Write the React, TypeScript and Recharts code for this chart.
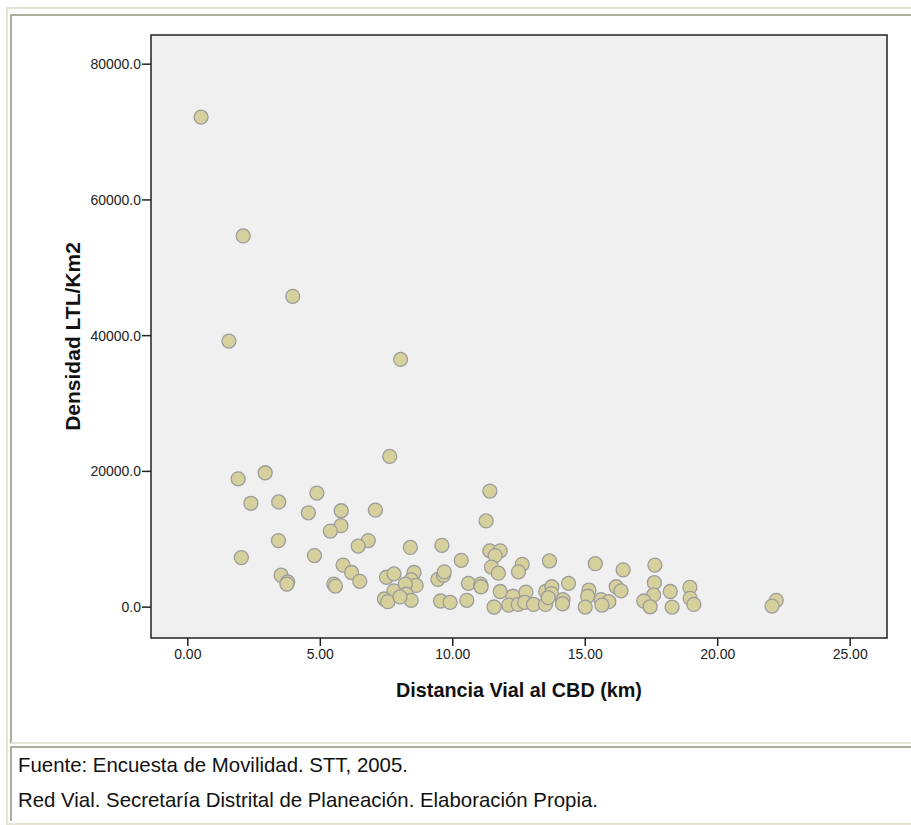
import React from 'react'
import { ScatterChart, Scatter, XAxis, YAxis, ReferenceArea } from 'recharts'

// Distancia vial al CBD (km) y densidad LTL/Km2 por zona
const distancia = [
  0.5, 2.09, 3.96, 1.55, 8.03, 7.62, 1.9, 2.92, 2.38, 3.43, 4.87, 4.55, 5.79, 7.08, 5.78, 5.38, 3.42,
  6.81, 6.43, 2.02, 4.78, 5.86, 6.18, 6.49, 3.52, 3.77, 3.74, 5.51, 5.57, 7.5, 7.78, 7.78, 7.42, 7.55,
  11.4, 11.26, 8.4, 9.59, 10.32, 11.4, 11.79, 11.6, 11.46, 11.72, 13.65, 12.62, 12.48, 15.38, 16.43,
  8.54, 8.43, 8.62, 8.21, 8.24, 8.43, 8.01, 9.44, 9.65, 9.68, 10.59, 11.05, 11.07, 9.54, 9.9, 10.53,
  11.79, 11.56, 12.27, 12.11, 12.47, 12.76, 12.71, 13.05, 13.51, 13.74, 13.72, 13.5, 14.16, 14.14,
  14.37, 15.14, 15.09, 15.0, 15.6, 15.89, 15.63, 16.17, 16.35, 17.63, 17.61, 17.58, 17.21, 17.45,
  18.21, 18.28, 18.95, 18.96, 19.1, 22.21, 22.05, 13.6,
]
const densidad = [
  72200, 54700, 45800, 39200, 36500, 22200, 18900, 19800, 15300, 15500, 16800, 13900, 14200, 14300,
  12000, 11200, 9800, 9800, 9000, 7300, 7600, 6200, 5100, 3800, 4700, 3700, 3400, 3400, 3100, 4400,
  4900, 2400, 1200, 800, 17100, 12700, 8800, 9100, 6900, 8300, 8300, 7600, 5900, 5000, 6800, 6300,
  5200, 6400, 5500, 5100, 4000, 3200, 3400, 1900, 1000, 1500, 4100, 4700, 5200, 3500, 3400, 3000, 900,
  700, 1000, 2300, 20, 1600, 300, 400, 2200, 700, 400, 2300, 3000, 2000, 400, 1100, 500, 3500, 2500,
  1600, 0, 1100, 800, 300, 3000, 2400, 6200, 3600, 1800, 900, 50, 2300, 0, 2900, 1300, 400, 1000,
  150, 1400,
]
const xTicks = [0, 5, 10, 15, 20, 25]
const yTicks = [0, 20000, 40000, 60000, 80000]
const xDomain = [-1.39, 26.39]
const yDomain = [-4550, 84300]

const data = distancia.map((d, i) => ({ distancia: d, densidad: densidad[i] }))

const font = 'Arial, "Liberation Sans", sans-serif'

const Dot = (props: any) => (
  <circle cx={props.cx} cy={props.cy} r={7} fill="#d5d09c" stroke="#9c9c9c" strokeWidth={1.3} />
)

const YTitle = (props: any) => {
  const vb = props.viewBox
  const cy = vb.y + vb.height / 2
  return (
    <text
      x={72}
      y={cy}
      transform={`rotate(-90, 72, ${cy})`}
      textAnchor="middle"
      dominantBaseline="central"
      fontFamily={font}
      fontWeight="bold"
      fontSize={21}
      fill="#111"
    >
      Densidad LTL/Km2
    </text>
  )
}

const XTitle = (props: any) => {
  const vb = props.viewBox
  return (
    <text
      x={vb.x + vb.width / 2}
      y={690}
      textAnchor="middle"
      dominantBaseline="central"
      fontFamily={font}
      fontWeight="bold"
      fontSize={19.8}
      fill="#111"
    >
      Distancia Vial al CBD (km)
    </text>
  )
}

export default function App() {
  return (
    <div style={{ position: 'absolute', left: 0, top: 0, width: 911, height: 825, background: '#fff', overflow: 'hidden' }}>
      {/* marcos */}
      <div style={{ position: 'absolute', left: 6, top: 7, width: 920, height: 814, borderLeft: '2px solid #e6e4d6', borderTop: '2px solid #e6e4d6', borderBottom: '2px solid #e6e4d6' }} />
      <div style={{ position: 'absolute', left: 10, top: 14, width: 920, height: 726, borderLeft: '2px solid #aeac9e', borderTop: '2px solid #aeac9e', borderBottom: '2px solid #e6e4d6' }} />
      <div style={{ position: 'absolute', left: 10, top: 746, width: 920, height: 73, borderLeft: '2px solid #aeac9e', borderTop: '2px solid #aeac9e' }} />

      <div style={{ position: 'absolute', left: 0, top: 0 }}>
        <ScatterChart width={911} height={710} margin={{ top: 35, right: 24, left: 0, bottom: 0 }}>
          <ReferenceArea
            x1={xDomain[0]}
            x2={xDomain[1]}
            y1={yDomain[0]}
            y2={yDomain[1]}
            fill="#f0f0f0"
            fillOpacity={1}
            stroke="#222"
            strokeWidth={1.5}
            ifOverflow="visible"
          />
          <XAxis
            type="number"
            dataKey="distancia"
            domain={xDomain}
            ticks={xTicks}
            allowDataOverflow
            height={72}
            axisLine={false}
            tickSize={8}
            tickMargin={3}
            tickLine={{ stroke: '#222', strokeWidth: 1.5 }}
            tick={{ fill: '#222', fontSize: 14, fontFamily: font }}
            tickFormatter={(v: number) => v.toFixed(2)}
            label={<XTitle />}
          />
          <YAxis
            type="number"
            dataKey="densidad"
            domain={yDomain}
            ticks={yTicks}
            allowDataOverflow
            width={151}
            axisLine={false}
            tickSize={9}
            tickMargin={1}
            tickLine={{ stroke: '#222', strokeWidth: 1.5 }}
            tick={{ fill: '#222', fontSize: 14, fontFamily: font }}
            tickFormatter={(v: number) => v.toFixed(1)}
            label={<YTitle />}
          />
          <Scatter data={data} shape={<Dot />} isAnimationActive={false} />
        </ScatterChart>
      </div>

      <div style={{ position: 'absolute', left: 18, top: 753, fontFamily: font, fontSize: 20.4, color: '#111', lineHeight: '24px' }}>
        Fuente: Encuesta de Movilidad. STT, 2005.
      </div>
      <div style={{ position: 'absolute', left: 18, top: 788, fontFamily: font, fontSize: 20.4, color: '#111', lineHeight: '24px' }}>
        Red Vial. Secretaría Distrital de Planeación. Elaboración Propia.
      </div>
    </div>
  )
}
